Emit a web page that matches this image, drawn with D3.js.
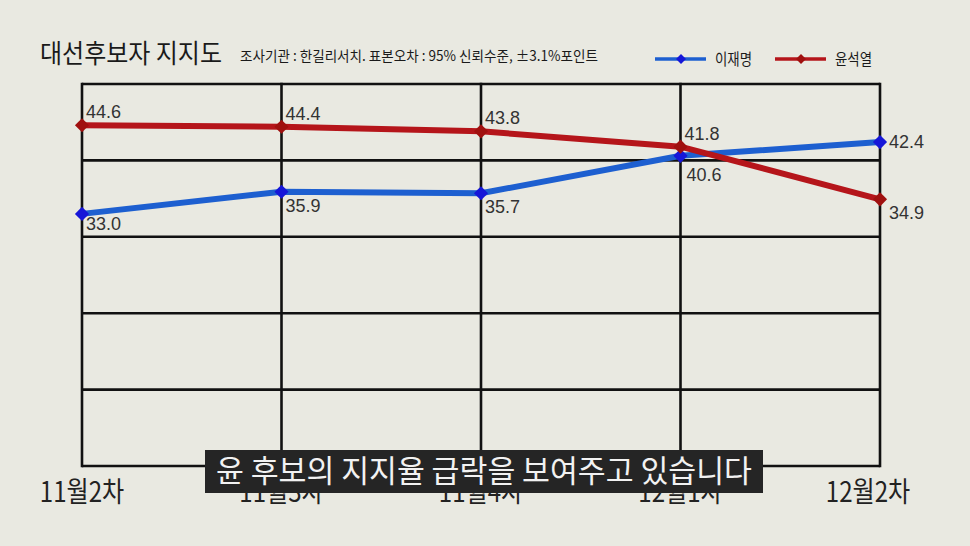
<!DOCTYPE html>
<html><head><meta charset="utf-8">
<script src="https://cdn.jsdelivr.net/npm/d3@7"></script>
<style>
html,body{margin:0;padding:0;background:#e9e9e1;}
svg{display:block;}
</style></head>
<body>
<svg id="c" width="970" height="546"></svg>
<script>
const categories = ["11월2차","11월3차","11월4차","12월1차","12월2차"];
const leeValues = [33.0, 35.9, 35.7, 40.6, 42.4];
const yoonValues = [44.6, 44.4, 43.8, 41.8, 34.9];
const yTicks = [0,10,20,30,40,50];
const seriesNames = ["이재명","윤석열"];
const titleText = "대선후보자 지지도";
const subtitleText = "조사기관 : 한길리서치. 표본오차 : 95% 신뢰수준, ±3.1%포인트";
const captionText = "윤 후보의 지지율 급락을 보여주고 있습니다";

const svg = d3.select("#c");
const kr = "'Noto Sans CJK KR','Noto Sans',sans-serif";
const num = "'Liberation Sans',Arial,sans-serif";

svg.append("rect").attr("width",970).attr("height",546).attr("fill","#e9e9e1");

const x = d3.scalePoint().domain(categories).range([82, 880]);
const y = d3.scaleLinear().domain([0,50]).range([466, 84]);

// grid
const g = svg.append("g");
g.selectAll("line.h").data(yTicks).join("line")
  .attr("x1",x(categories[0])).attr("x2",x(categories[4]))
  .attr("y1",d=>y(d)).attr("y2",d=>y(d))
  .attr("stroke","#111").attr("stroke-width",2.6);
g.selectAll("line.v").data(categories).join("line")
  .attr("x1",d=>x(d)).attr("x2",d=>x(d))
  .attr("y1",y(50)-1.3).attr("y2",y(0)+1.3)
  .attr("stroke","#111").attr("stroke-width",2.6);

// x axis labels
const xAxis = d3.axisBottom(x).tickSize(0).tickPadding(0);
const xg = svg.append("g").attr("transform","translate(0,502)").call(xAxis);
xg.select(".domain").remove();
xg.selectAll(".tick").each(function(d){
  const t=d3.select(this);
  const px = x(d) - (d===categories[4]?12:0);
  t.attr("transform",`translate(${px},0)`);
  t.select("text").attr("x",0).attr("y",0).attr("dy",0)
    .attr("font-family",kr).attr("font-size",28).attr("fill","#222")
    .attr("transform","scale(0.86,1)");
});

// lines
const line = d3.line().x((d,i)=>x(categories[i])).y(d=>y(d));
const series = [
  {name:seriesNames[0], vals:leeValues, stroke:"#1d5fd0", mark:"#1616d8"},
  {name:seriesNames[1], vals:yoonValues, stroke:"#b5151a", mark:"#a0100f"}
];
const diamond = d3.symbol().type(d3.symbolSquare).size(100);
series.forEach(s=>{
  svg.append("path").datum(s.vals).attr("d",line).attr("fill","none")
    .attr("stroke",s.stroke).attr("stroke-width",6);
});
series.forEach(s=>{
  svg.selectAll(null).data(s.vals).join("path")
    .attr("d",diamond)
    .attr("transform",(d,i)=>`translate(${x(categories[i])},${y(d)}) rotate(45)`)
    .attr("fill",s.mark);
});

// data labels
const lab = svg.append("g").attr("font-family",num).attr("font-size",18).attr("fill","#333");
yoonValues.forEach((v,i)=>{
  const px=x(categories[i]), py=y(v);
  let dx=4, dy=-7;
  if(i===4){dx=9; dy=20;}
  lab.append("text").attr("x",px+dx).attr("y",py+dy).text(v.toFixed(1));
});
leeValues.forEach((v,i)=>{
  const px=x(categories[i]), py=y(v);
  let dx=4, dy=20;
  if(i===0){dy=16;}
  if(i===3){dx=6; dy=25;}
  if(i===4){dx=9; dy=6;}
  lab.append("text").attr("x",px+dx).attr("y",py+dy).text(v.toFixed(1));
});

// title
svg.append("text").attr("x",40).attr("y",63).attr("font-family",kr).attr("font-size",26)
  .attr("fill","#1a1a1a").attr("textLength",182).attr("lengthAdjust","spacingAndGlyphs").text(titleText);
svg.append("text").attr("x",240).attr("y",61).attr("font-family",kr).attr("font-size",14)
  .attr("fill","#1a1a1a").attr("textLength",358).attr("lengthAdjust","spacingAndGlyphs").text(subtitleText);

// legend
const legX=[655,775];
series.forEach((s,i)=>{
  const lg=svg.append("g").attr("transform",`translate(${legX[i]},59)`);
  lg.append("line").attr("x1",0).attr("x2",51).attr("y1",0).attr("y2",0).attr("stroke",s.stroke).attr("stroke-width",3.5);
  lg.append("path").attr("d",d3.symbol().type(d3.symbolSquare).size(50)).attr("transform","translate(26,0) rotate(45)").attr("fill",s.mark);
  lg.append("text").attr("x",60).attr("y",6).attr("font-family",kr).attr("font-size",16).attr("fill","#1a1a1a")
    .attr("textLength",37).attr("lengthAdjust","spacingAndGlyphs").text(s.name);
});

// caption
svg.append("rect").attr("x",205).attr("y",450).attr("width",558).attr("height",43).attr("fill","#252525");
svg.append("text").attr("x",484).attr("y",482).attr("text-anchor","middle").attr("font-family",kr)
  .attr("font-size",31).attr("fill","#f2f2f2").attr("textLength",536).attr("lengthAdjust","spacingAndGlyphs").text(captionText);
</script>
</body></html>
